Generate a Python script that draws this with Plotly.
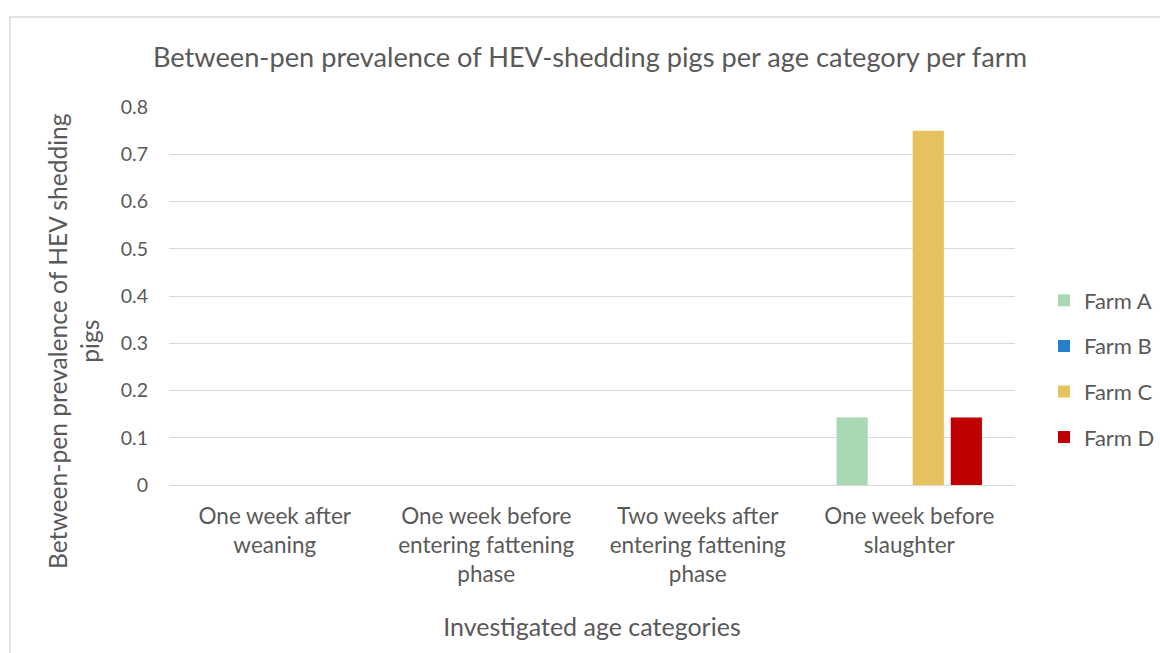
import plotly.graph_objects as go

categories = ["One week after<br>weaning",
              "One week before<br>entering fattening<br>phase",
              "Two weeks after<br>entering fattening<br>phase",
              "One week before<br>slaughter"]
farm_a = [0, 0, 0, 0.143]
farm_b = [0, 0, 0, 0]
farm_c = [0, 0, 0, 0.75]
farm_d = [0, 0, 0, 0.143]
series_names = ["Farm A", "Farm B", "Farm C", "Farm D"]
colors = ["#A9D8B5", "#2480C8", "#E5C25E", "#C00000"]
tick_vals = [0, 0.1, 0.2, 0.3, 0.4, 0.5, 0.6, 0.7, 0.8]
tick_text = ["0", "0.1", "0.2", "0.3", "0.4", "0.5", "0.6", "0.7", "0.8"]

FONT = "Lato, 'Liberation Sans', sans-serif"
GRAY = "#595959"

fig = go.Figure()
for i, (name, vals) in enumerate(zip(series_names, [farm_a, farm_b, farm_c, farm_d])):
    fig.add_trace(go.Bar(x=categories, y=vals, name=name, marker_color=colors[i],
                         marker_line_width=0, legendgroup=name))

W, H = 1160, 653
L, R, T, B = 169, 145, 107, 168
pw, ph = W - L - R, H - T - B

fig.update_layout(
    width=W, height=H,
    margin=dict(l=L, r=R, t=T, b=B, autoexpand=False),
    paper_bgcolor="white", plot_bgcolor="white",
    font=dict(family=FONT, color=GRAY, size=20),
    barmode="group", bargap=0.28, bargroupgap=0.18,
    title=dict(text="Between-pen prevalence of HEV-shedding pigs per age category per farm",
               x=590 / W, xanchor="center", y=1 - 57 / H, yanchor="middle",
               font=dict(size=27.2, color=GRAY)),
    xaxis=dict(showgrid=False, showline=False, ticks="", tickfont=dict(size=22.5, color=GRAY),
               ticklabelstandoff=15, automargin=False,
               title=dict(text="Investigated age categories", font=dict(size=25, color=GRAY),
                          standoff=32)),
    yaxis=dict(range=[0, 0.8], tickvals=tick_vals, ticktext=tick_text,
               showgrid=True, gridcolor="#D9D9D9", gridwidth=1.3,
               zeroline=True, zerolinecolor="#D9D9D9", zerolinewidth=1.3,
               showline=False, ticks="", ticklen=0, tickfont=dict(size=19.5, color=GRAY),
               ticklabelstandoff=20, automargin=False),
    legend=dict(x=(1044 - L) / pw, xanchor="left", y=(485 - 369) / ph, yanchor="middle",
                font=dict(size=22, color=GRAY), tracegroupgap=14,
                itemwidth=30, bgcolor="rgba(0,0,0,0)"),
    showlegend=True,
)

fig.add_annotation(text="Between-pen prevalence of HEV shedding<br>pigs",
                   xref="paper", yref="paper",
                   x=(73 - L) / pw, y=(485 - 341) / ph, textangle=-90,
                   showarrow=False, xanchor="center", yanchor="middle",
                   font=dict(size=24.6, color=GRAY))

fig.add_shape(type="rect", xref="paper", yref="paper",
              x0=(10 - L) / pw, x1=(1170 - L) / pw,
              y0=(485 - 670) / ph, y1=1 + (T - 17) / ph,
              line=dict(color="#D9D9D9", width=1.5), fillcolor="rgba(0,0,0,0)", layer="below")

fig.write_html("out.html", config={"displayModeBar": False},
               post_script="document.body.style.margin='0';document.body.style.padding='0';")
